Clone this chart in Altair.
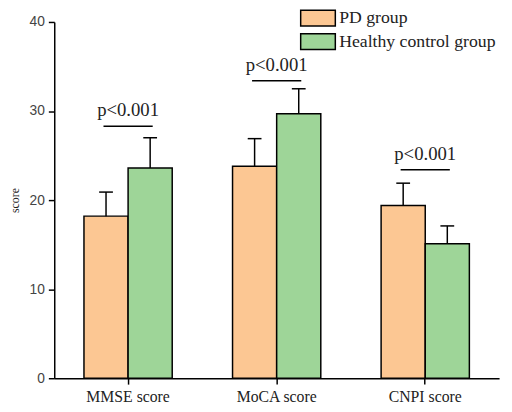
import altair as alt
import pandas as pd

categories = ["MMSE score", "MoCA score", "CNPI score"]
groups = ["PD group", "Healthy control group"]
pd_means = [18.2, 23.8, 19.4]
pd_sd = [2.7, 3.1, 2.5]
hc_means = [23.6, 29.7, 15.1]
hc_sd = [3.4, 2.8, 2.0]
sig_y = [28.3, 33.4, 23.4]
sig_labels = ["p<0.001", "p<0.001", "p<0.001"]
colors = ["#FCC793", "#9ED598"]

rows = []
for i, c in enumerate(categories):
    rows.append({"category": c, "group": groups[0], "mean": pd_means[i], "upper": pd_means[i] + pd_sd[i]})
    rows.append({"category": c, "group": groups[1], "mean": hc_means[i], "upper": hc_means[i] + hc_sd[i]})
df = pd.DataFrame(rows)
sig_df = pd.DataFrame({"category": categories, "y": sig_y, "label": sig_labels})

SERIF = "Times New Roman, Liberation Serif, serif"

xenc = alt.X("category:N", sort=categories,
             scale=alt.Scale(paddingInner=0.406, paddingOuter=0.2),
             axis=alt.Axis(title=None, labelAngle=0, labelFont=SERIF, labelFontSize=16,
                           labelColor="#222", domainColor="black", domainWidth=1.5,
                           tickColor="black", tickWidth=1.5, tickSize=6, labelPadding=5))
xoff = alt.XOffset("group:N", sort=groups, scale=alt.Scale(paddingInner=0, paddingOuter=0))
yscale = alt.Scale(domain=[0, 40], nice=False)
yaxis = alt.Axis(values=[0, 10, 20, 30, 40], grid=False, title="score",
                 titleFont=SERIF, titleFontSize=12, titleFontWeight="normal", titleColor="#222",
                 titleX=-40, titleY=181, titleAlign="center", titleBaseline="middle", titleAngle=270,
                 labelFont="Liberation Sans", labelFontSize=14, labelColor="#444",
                 domainColor="black", domainWidth=1.5, tickColor="black", tickWidth=1.5,
                 tickSize=6, labelPadding=4)

base = alt.Chart(df).encode(x=xenc, xOffset=xoff)

bars = base.mark_bar(stroke="black", strokeWidth=1.5).encode(
    y=alt.Y("mean:Q", scale=yscale, axis=yaxis),
    color=alt.Color("group:N", sort=groups,
                    scale=alt.Scale(domain=groups, range=colors),
                    legend=alt.Legend(title=None, orient="none", legendX=259, legendY=-13,
                                      symbolType="M-2.2,-1H2.2V1H-2.2Z", symbolSize=256,
                                      symbolStrokeColor="black", symbolStrokeWidth=1.5,
                                      symbolOpacity=1, labelFont=SERIF, labelFontSize=18,
                                      labelColor="#222", labelOffset=12.5, rowPadding=2,
                                      labelLimit=300, padding=0)),
)
err = base.mark_rule(color="black", strokeWidth=1.5).encode(y="mean:Q", y2="upper:Q")
caps = base.mark_tick(color="black", size=14, thickness=1.5, opacity=1).encode(y="upper:Q")

sig_base = alt.Chart(sig_df).encode(x=alt.X("category:N", sort=categories), y=alt.Y("y:Q"))
sig_line = sig_base.mark_tick(color="black", size=50, thickness=1.5, opacity=1)
sig_text = sig_base.mark_text(font=SERIF, fontSize=19, color="#222", dy=-10,
                              baseline="alphabetic").encode(text="label:N")

chart = alt.layer(bars, err, caps, sig_line, sig_text).properties(
    width=452, height=362,
    autosize=alt.AutoSizeParams(type="none"),
    padding={"left": 47, "top": 11, "right": 5, "bottom": 23},
).configure_view(stroke=None)

chart.save("out.html", embed_options={"renderer": "svg", "actions": False})
